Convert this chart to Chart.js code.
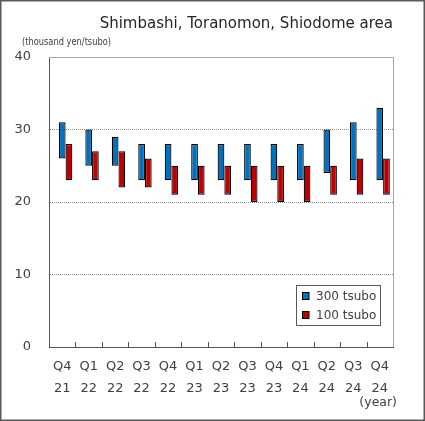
<!DOCTYPE html>
<html>
<head>
<meta charset="utf-8">
<script src="https://cdn.jsdelivr.net/npm/chart.js@4.4.1/dist/chart.umd.min.js"></script>
<style>
  html, body { margin: 0; padding: 0; background: #fff; }
  #wrap { width: 425px; height: 421px; }
</style>
</head>
<body>
<div id="wrap"><canvas id="c" width="425" height="421"></canvas></div>
<script>
const categories = ['Q4 21','Q1 22','Q2 22','Q3 22','Q4 22','Q1 23','Q2 23','Q3 23','Q4 23','Q1 24','Q2 24','Q3 24','Q4 24'];
const quarterLabels = ['Q4','Q1','Q2','Q3','Q4','Q1','Q2','Q3','Q4','Q1','Q2','Q3','Q4'];
const yearLabels = ['21','22','22','22','22','23','23','23','23','24','24','24','24'];
const tsubo300Low  = [26,25,25,23,23,23,23,23,23,23,24,23,23];
const tsubo300High = [31,30,29,28,28,28,28,28,28,28,30,31,33];
const tsubo100Low  = [23,23,22,22,21,21,21,20,20,20,21,21,21];
const tsubo100High = [28,27,27,26,25,25,25,25,25,25,25,26,26];
const seriesNames = ['300 tsubo','100 tsubo'];
const chartTitle = 'Shimbashi, Toranomon, Shiodome area';
const unitLabel = '(thousand yen/tsubo)';
const xUnitLabel = '(year)';

const BLUE = '#0070c0', RED = '#c00000';
const FONT = "'DejaVu Sans', Verdana, sans-serif";

const decor = {
  id: 'decor',
  beforeDatasetsDraw(chart) {
    const {ctx, chartArea: a} = chart;
    ctx.save();
    ctx.strokeStyle = '#a6a6a6';
    ctx.lineWidth = 1;
    ctx.beginPath();
    ctx.moveTo(a.left, Math.round(a.top) + 0.5);
    ctx.lineTo(Math.round(a.right) + 0.5, Math.round(a.top) + 0.5);
    ctx.lineTo(Math.round(a.right) + 0.5, a.bottom);
    ctx.stroke();
    ctx.restore();
  },
  afterDraw(chart) {
    const {ctx, chartArea: a, scales} = chart;
    const xs = scales.x;
    ctx.save();
    ctx.strokeStyle = '#555';
    ctx.lineWidth = 1;
    ctx.beginPath();
    for (let i = 1; i < categories.length; i++) {
      const x = Math.round((xs.getPixelForTick(i - 1) + xs.getPixelForTick(i)) / 2) + 0.5;
      ctx.moveTo(x, a.bottom);
      ctx.lineTo(x, a.bottom - 5);
    }
    ctx.stroke();

    ctx.fillStyle = '#262626';
    ctx.font = '15px ' + FONT;
    ctx.textAlign = 'right';
    ctx.textBaseline = 'middle';
    ctx.fillText(chartTitle, a.right, 24);

    // unit label, condensed to the reference width
    ctx.font = "11px 'Liberation Sans Narrow', 'DejaVu Sans Condensed', 'Liberation Sans', sans-serif";
    ctx.textAlign = 'left';
    ctx.fillStyle = '#404040';
    const uw = ctx.measureText(unitLabel).width;
    const target = 89;
    ctx.save();
    ctx.translate(22, 42);
    if (uw > target) ctx.scale(target / uw, 1);
    ctx.fillText(unitLabel, 0, 0);
    ctx.restore();

    ctx.font = '12.5px ' + FONT;
    ctx.textAlign = 'right';
    ctx.fillStyle = '#404040';
    ctx.fillText(xUnitLabel, 397, 403);

    const lx = 296, ly = 285, lw = 84, lh = 40;
    ctx.fillStyle = '#fff';
    ctx.fillRect(lx, ly, lw, lh);
    ctx.strokeStyle = '#595959';
    ctx.strokeRect(lx + 0.5, ly + 0.5, lw, lh);
    const sets = chart.data.datasets.filter(d => d.label);
    sets.forEach((d, i) => {
      const cy = ly + 11 + i * 19;
      ctx.fillStyle = d.backgroundColor;
      ctx.fillRect(302, cy - 3.5, 7, 7);
      ctx.strokeStyle = '#000';
      ctx.strokeRect(302.5, cy - 3.5, 6.5, 7);
      ctx.fillStyle = '#404040';
      ctx.font = '12px ' + FONT;
      ctx.textAlign = 'left';
      ctx.fillText(d.label, 316, cy + 0.5);
    });

    ctx.strokeStyle = '#595959';
    ctx.lineWidth = 1.5;
    ctx.strokeRect(0.75, 0.75, 423.5, 419.5);
    ctx.restore();
  }
};

new Chart(document.getElementById('c'), {
  type: 'bar',
  data: {
    labels: categories,
    datasets: [
      { data: categories.map(() => null), backgroundColor: 'rgba(0,0,0,0)' },
      { label: seriesNames[0], data: tsubo300Low.map((v, i) => [v, tsubo300High[i]]),
        backgroundColor: BLUE, borderColor: '#000', borderWidth: 1.2, borderSkipped: false },
      { label: seriesNames[1], data: tsubo100Low.map((v, i) => [v, tsubo100High[i]]),
        backgroundColor: RED, borderColor: '#000', borderWidth: 1.2, borderSkipped: false }
    ]
  },
  options: {
    responsive: false,
    animation: false,
    devicePixelRatio: 1,
    layout: { padding: { left: 14, right: 32, top: 57, bottom: 24 } },
    plugins: { legend: { display: false }, tooltip: { enabled: false }, title: { display: false } },
    datasets: { bar: { categoryPercentage: 0.76, barPercentage: 1.0 } },
    scales: {
      x: {
        grid: { display: false, drawTicks: false },
        border: { display: true, color: '#555', width: 1 },
        afterFit: s => { s.height = 50; },
        ticks: {
          color: '#404040',
          font: { family: FONT, size: 13, lineHeight: '22px' },
          padding: 9,
          maxRotation: 0,
          autoSkip: false,
          callback: (v, i) => [quarterLabels[i], yearLabels[i]]
        }
      },
      y: {
        min: 0, max: 40,
        afterFit: s => { s.width = 35; },
        ticks: { stepSize: 10, color: '#404040', font: { family: FONT, size: 13 }, padding: 18 },
        grid: {
          drawTicks: false,
          color: ctx => (ctx.tick && (ctx.tick.value === 0 || ctx.tick.value === 40)) ? 'rgba(0,0,0,0)' : '#8c8c8c',
          lineWidth: 1
        },
        border: { display: true, color: '#555', width: 1, dash: [1, 1] }
      }
    }
  },
  plugins: [decor]
});
</script>
</body>
</html>
